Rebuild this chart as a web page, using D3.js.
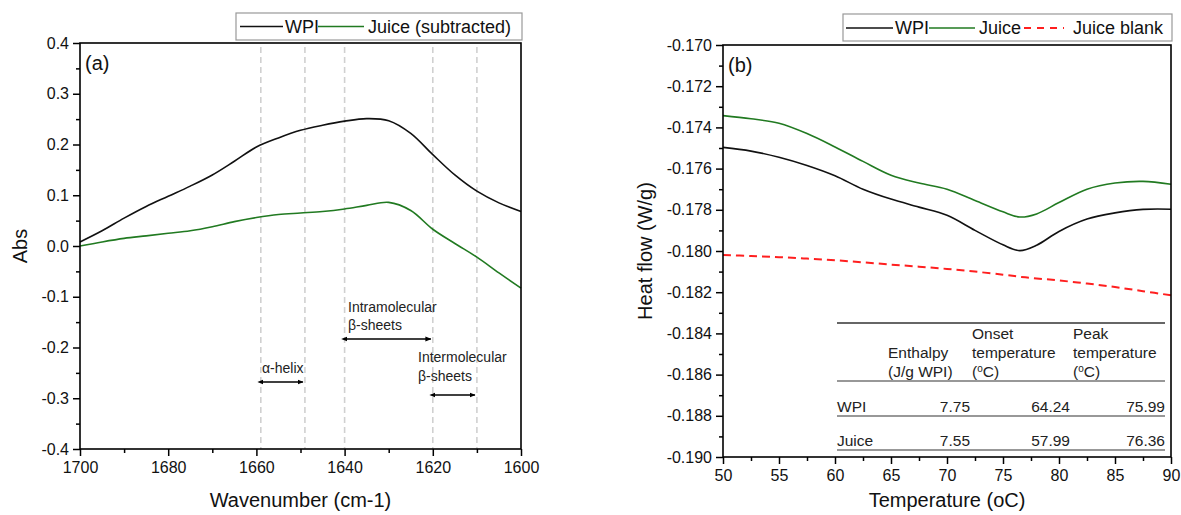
<!DOCTYPE html>
<html><head><meta charset="utf-8">
<script src="https://cdn.jsdelivr.net/npm/d3@7/dist/d3.min.js"></script>
<style>
body{margin:0;background:#fff;}
svg{display:block;font-family:"Liberation Sans",Arial,sans-serif;}
</style></head>
<body>
<svg id="chart" width="1181" height="515"></svg>
<script>
// ---------- Panel (a) data: FTIR ----------
const wavenumbers = [1700,1695,1690,1685,1680,1675,1670,1665,1660,1655,1650,1645,1640,1635,1630,1625,1620,1615,1610,1605,1600];
const absWPI      = [0.008,0.030,0.055,0.078,0.098,0.118,0.140,0.167,0.195,0.213,0.228,0.238,0.246,0.251,0.247,0.222,0.180,0.140,0.108,0.085,0.068];
const absJuice    = [0.000,0.008,0.015,0.020,0.025,0.030,0.038,0.048,0.056,0.062,0.065,0.068,0.073,0.080,0.086,0.070,0.033,0.005,-0.022,-0.053,-0.083];
const guideLines  = [1659,1649,1640,1620,1610];
const xTicksA = [1700,1680,1660,1640,1620,1600];
const xTickLabelsA = ["1700","1680","1660","1640","1620","1600"];
const xMinorA = [1690,1670,1650,1630,1610];
const yTicksA = [-0.4,-0.3,-0.2,-0.1,0.0,0.1,0.2,0.3,0.4];
const yTickLabelsA = ["-0.4","-0.3","-0.2","-0.1","0.0","0.1","0.2","0.3","0.4"];
const yMinorA = [-0.35,-0.25,-0.15,-0.05,0.05,0.15,0.25,0.35];
const regionNames = ["α-helix","Intramolecular|β-sheets","Intermolecular|β-sheets"];
const regionFrom  = [1659,1640,1620];
const regionTo    = [1649,1620,1610];
const legendA = ["WPI","Juice (subtracted)"];

// ---------- Panel (b) data: DSC ----------
const temps      = [50,52.5,55,57.5,60,62.5,65,67.5,70,72.5,75,76.5,78,80,82.5,85,87.5,90];
const hfWPI      = [-0.17497,-0.17515,-0.17545,-0.17585,-0.17635,-0.17700,-0.17748,-0.17787,-0.17827,-0.17900,-0.17970,-0.17998,-0.17972,-0.17905,-0.17845,-0.17815,-0.17798,-0.17797];
const hfJuice    = [-0.17343,-0.17358,-0.17380,-0.17430,-0.17495,-0.17565,-0.17632,-0.17670,-0.17700,-0.17755,-0.17810,-0.17835,-0.17820,-0.17765,-0.17700,-0.17670,-0.17662,-0.17676];
const hfBlank    = [-0.18020,-0.18024,-0.18030,-0.18037,-0.18045,-0.18055,-0.18066,-0.18076,-0.18087,-0.18100,-0.18115,-0.18125,-0.18133,-0.18143,-0.18158,-0.18175,-0.18195,-0.18215];
const xTicksB = [50,55,60,65,70,75,80,85,90];
const xTickLabelsB = ["50","55","60","65","70","75","80","85","90"];
const xMinorB = [52.5,57.5,62.5,67.5,72.5,77.5,82.5,87.5];
const yTicksB = [-0.190,-0.188,-0.186,-0.184,-0.182,-0.180,-0.178,-0.176,-0.174,-0.172,-0.170];
const yTickLabelsB = ["-0.190","-0.188","-0.186","-0.184","-0.182","-0.180","-0.178","-0.176","-0.174","-0.172","-0.170"];
const yMinorB = [-0.189,-0.187,-0.185,-0.183,-0.181,-0.179,-0.177,-0.175,-0.173,-0.171];
const legendB = ["WPI","Juice","Juice blank"];
const tableRowNames = ["WPI","Juice"];
const tableEnthalpy = ["7.75","7.55"];
const tableOnset    = ["64.24","57.99"];
const tablePeak     = ["75.99","76.36"];

// ---------- drawing ----------
const svg = d3.select("#chart");
const BLACK="#111", GREEN="#217a21", RED="#ff1f1f";
const FONT = 16;

const defs = svg.append("defs");
["s","e"].forEach(k=>{
  defs.append("marker").attr("id","arr"+k).attr("viewBox","0 0 10 10")
    .attr("refX",k==="e"?9:1).attr("refY",5).attr("markerWidth",6).attr("markerHeight",6)
    .attr("orient","auto-start-reverse").attr("markerUnits","userSpaceOnUse")
    .append("path").attr("d","M0,1 L10,5 L0,9 Z").attr("fill","#000");
});

function drawAxes(g, x, y, xt, xl, xm, yt, yl, ym, W, H){
  const xa = d3.axisBottom(x).tickValues(xt).tickFormat((d,i)=>xl[i]).tickSizeInner(7).tickSizeOuter(0).tickPadding(6);
  const xmin = d3.axisBottom(x).tickValues(xm).tickFormat("").tickSizeInner(4).tickSizeOuter(0);
  const ya = d3.axisLeft(y).tickValues(yt).tickFormat((d,i)=>yl[i]).tickSizeInner(7).tickSizeOuter(0).tickPadding(4);
  const ymin = d3.axisLeft(y).tickValues(ym).tickFormat("").tickSizeInner(4).tickSizeOuter(0);
  [xa,xmin].forEach(a=>{
    const gg=g.append("g").attr("transform",`translate(0,${H})`).call(a);
    gg.select(".domain").remove();
  });
  [ya,ymin].forEach(a=>{
    const gg=g.append("g").call(a);
    gg.select(".domain").remove();
  });
  g.selectAll(".tick line").attr("stroke","#000").attr("stroke-width",1.5);
  g.selectAll(".tick text").attr("font-size",FONT).attr("fill","#111").attr("font-family","Liberation Sans, Arial, sans-serif");
  g.append("rect").attr("x",0).attr("y",0).attr("width",W).attr("height",H)
    .attr("fill","none").attr("stroke","#000").attr("stroke-width",1.6);
}

// ----- Panel a -----
{
  const L=80,T=43,R=521,B=449,W=R-L,H=B-T;
  const g = svg.append("g").attr("transform",`translate(${L},${T})`);
  const x = d3.scaleLinear().domain([1700,1600]).range([0,W]);
  const y = d3.scaleLinear().domain([-0.4,0.4]).range([H,0]);
  g.selectAll(".guide").data(guideLines).enter().append("line")
    .attr("x1",d=>x(d)).attr("x2",d=>x(d)).attr("y1",4).attr("y2",H)
    .attr("stroke","#d0d0d0").attr("stroke-width",1.6).attr("stroke-dasharray","6,4");
  const line = d3.line().x((d,i)=>x(wavenumbers[i])).y(d=>y(d)).curve(d3.curveCatmullRom.alpha(0.5));
  g.append("path").attr("d",line(absWPI)).attr("fill","none").attr("stroke",BLACK).attr("stroke-width",1.6);
  g.append("path").attr("d",line(absJuice)).attr("fill","none").attr("stroke",GREEN).attr("stroke-width",1.6);
  drawAxes(g,x,y,xTicksA,xTickLabelsA,xMinorA,yTicksA,yTickLabelsA,yMinorA,W,H);
  g.append("text").attr("x",5).attr("y",27).attr("font-size",20).attr("fill","#111").text("(a)");
  const arrowYs=[382,339,395].map(v=>v-T);
  regionNames.forEach((nm,i)=>{
    g.append("line").attr("x1",x(regionFrom[i])+2).attr("x2",x(regionTo[i])-2)
      .attr("y1",arrowYs[i]).attr("y2",arrowYs[i]).attr("stroke","#000").attr("stroke-width",1.4)
      .attr("marker-start","url(#arrs)").attr("marker-end","url(#arre)");
  });
  const lab = (txt,xx,yy)=>g.append("text").attr("x",xx-L).attr("y",yy-T).attr("font-size",14).attr("fill","#222").text(txt);
  lab(regionNames[0],262,373);
  const p1=regionNames[1].split("|"); lab(p1[0],348,312); lab(p1[1],348,330);
  const p2=regionNames[2].split("|"); lab(p2[0],418,362); lab(p2[1],418,381);
  svg.append("text").attr("x",(L+R)/2).attr("y",507).attr("text-anchor","middle").attr("font-size",20).attr("fill","#111").text("Wavenumber (cm-1)");
  svg.append("text").attr("transform",`translate(27,${(T+B)/2}) rotate(-90)`).attr("text-anchor","middle").attr("font-size",20).attr("fill","#111").text("Abs");
  const lg=svg.append("g");
  lg.append("rect").attr("x",236).attr("y",13).attr("width",286).attr("height",27).attr("fill","#fff").attr("stroke","#999").attr("stroke-width",1.2);
  lg.append("line").attr("x1",240).attr("x2",283).attr("y1",26.5).attr("y2",26.5).attr("stroke",BLACK).attr("stroke-width",1.6);
  lg.append("text").attr("x",285).attr("y",33).attr("font-size",18).attr("fill","#111").text(legendA[0]);
  lg.append("line").attr("x1",318).attr("x2",364).attr("y1",26.5).attr("y2",26.5).attr("stroke",GREEN).attr("stroke-width",1.6);
  lg.append("text").attr("x",368).attr("y",33).attr("font-size",18).attr("fill","#111").text(legendA[1]);
}

// ----- Panel b -----
{
  const L=723,T=45,R=1171,B=457,W=R-L,H=B-T;
  const g = svg.append("g").attr("transform",`translate(${L},${T})`);
  const x = d3.scaleLinear().domain([50,90]).range([0,W]);
  const y = d3.scaleLinear().domain([-0.190,-0.170]).range([H,0]);
  const line = d3.line().x((d,i)=>x(temps[i])).y(d=>y(d)).curve(d3.curveCatmullRom.alpha(0.5));
  g.append("path").attr("d",line(hfWPI)).attr("fill","none").attr("stroke",BLACK).attr("stroke-width",1.6);
  g.append("path").attr("d",line(hfJuice)).attr("fill","none").attr("stroke",GREEN).attr("stroke-width",1.6);
  g.append("path").attr("d",line(hfBlank)).attr("fill","none").attr("stroke",RED).attr("stroke-width",2).attr("stroke-dasharray","8,5");
  drawAxes(g,x,y,xTicksB,xTickLabelsB,xMinorB,yTicksB,yTickLabelsB,yMinorB,W,H);
  g.append("text").attr("x",5).attr("y",27).attr("font-size",20).attr("fill","#111").text("(b)");
  const tL=837, tR=1165;
  const tg=svg.append("g").attr("font-size",15.5).attr("fill","#222");
  const hl=(yy,w)=>tg.append("line").attr("x1",tL).attr("x2",tR).attr("y1",yy).attr("y2",yy).attr("stroke","#333").attr("stroke-width",w);
  hl(323,1.6); hl(381,1.2); hl(416,1.2); hl(450,1.2);
  const tx=(t,xx,yy,anchor)=>tg.append("text").attr("x",xx).attr("y",yy).attr("text-anchor",anchor||"start").text(t);
  tx("Enthalpy",888,358); tx("(J/g WPI)",888,377);
  tx("Onset",972,339); tx("temperature",972,358);
  const oc1=tg.append("text").attr("x",972).attr("y",377); oc1.append("tspan").text("(");
  oc1.append("tspan").attr("font-size",10).attr("dy",-5).text("o"); oc1.append("tspan").attr("dy",5).text("C)");
  tx("Peak",1073,339); tx("temperature",1073,358);
  const oc2=tg.append("text").attr("x",1073).attr("y",377); oc2.append("tspan").text("(");
  oc2.append("tspan").attr("font-size",10).attr("dy",-5).text("o"); oc2.append("tspan").attr("dy",5).text("C)");
  const rowY=[412,446];
  tableRowNames.forEach((nm,i)=>{
    tx(nm,837,rowY[i]);
    tx(tableEnthalpy[i],970,rowY[i],"end");
    tx(tableOnset[i],1070,rowY[i],"end");
    tx(tablePeak[i],1165,rowY[i],"end");
  });
  svg.append("text").attr("x",(L+R)/2).attr("y",507).attr("text-anchor","middle").attr("font-size",20).attr("fill","#111").text("Temperature (oC)");
  svg.append("text").attr("transform",`translate(652,${(T+B)/2}) rotate(-90)`).attr("text-anchor","middle").attr("font-size",20).attr("fill","#111").text("Heat flow (W/g)");
  const lg=svg.append("g");
  lg.append("rect").attr("x",843).attr("y",14).attr("width",329).attr("height",27).attr("fill","#fff").attr("stroke","#999").attr("stroke-width",1.2);
  lg.append("line").attr("x1",846).attr("x2",893).attr("y1",28).attr("y2",28).attr("stroke",BLACK).attr("stroke-width",1.6);
  lg.append("text").attr("x",895).attr("y",34).attr("font-size",18).attr("fill","#111").text(legendB[0]);
  lg.append("line").attr("x1",929).attr("x2",975).attr("y1",28).attr("y2",28).attr("stroke",GREEN).attr("stroke-width",1.6);
  lg.append("text").attr("x",979).attr("y",34).attr("font-size",18).attr("fill","#111").text(legendB[1]);
  lg.append("line").attr("x1",1024).attr("x2",1064).attr("y1",28).attr("y2",28).attr("stroke",RED).attr("stroke-width",2).attr("stroke-dasharray","7,6");
  lg.append("text").attr("x",1073).attr("y",34).attr("font-size",18).attr("fill","#111").text(legendB[2]);
}
</script>
</body></html>
